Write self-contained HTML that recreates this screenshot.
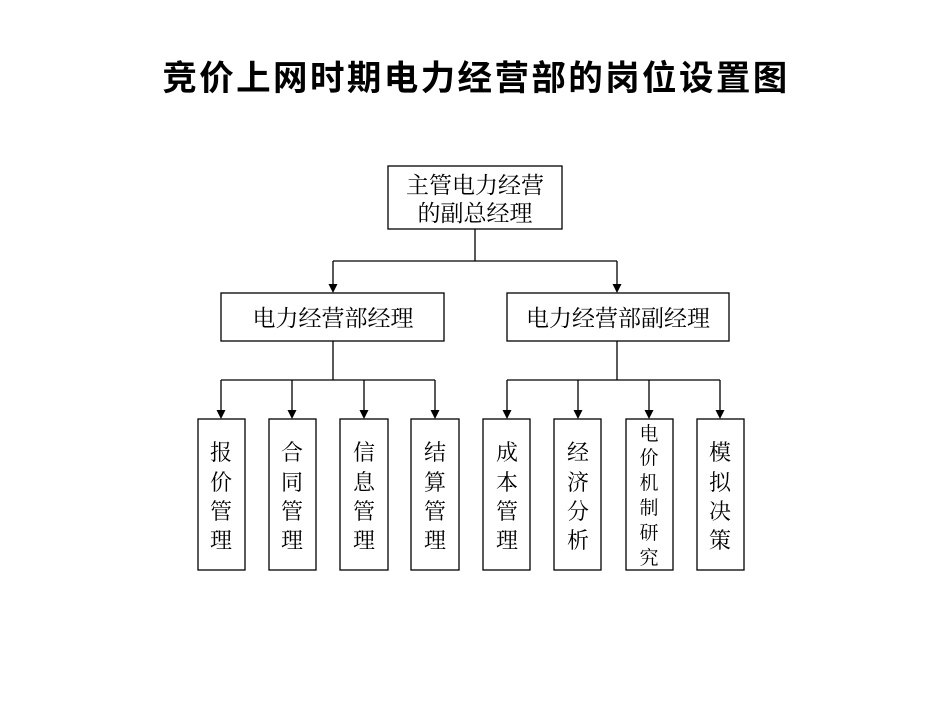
<!DOCTYPE html>
<html><head><meta charset="utf-8"><style>
html,body{margin:0;padding:0;background:#fff;}
svg{display:block;}
text{font-family:"Liberation Serif","Noto Serif CJK SC",serif;fill:#000;}
.t{font-family:"Liberation Sans","Noto Sans CJK SC","WenQuanYi Zen Hei",sans-serif;}
</style></head><body>
<svg width="950" height="713" viewBox="0 0 950 713" xmlns="http://www.w3.org/2000/svg">
<text class="t" x="476" y="90" font-size="34.5" font-weight="bold" text-anchor="middle" letter-spacing="2.4">竞价上网时期电力经营部的岗位设置图</text>
<g fill="none" stroke="#000" stroke-width="1.3">
<rect x="388" y="166" width="174" height="63"/>
<rect x="221" y="293" width="223" height="48"/>
<rect x="507" y="293" width="222" height="48"/>
<rect x="198" y="419" width="47" height="151"/>
<rect x="269" y="419" width="47" height="151"/>
<rect x="340" y="419" width="48" height="151"/>
<rect x="411" y="419" width="48" height="151"/>
<rect x="483" y="419" width="47" height="151"/>
<rect x="554" y="419" width="47" height="151"/>
<rect x="626" y="419" width="47" height="151"/>
<rect x="697" y="419" width="47" height="151"/>
<path d="M475,229 V261 M333,261 H617 M333,341 V380 M221,380 H435 M617,341 V380 M507,380 H720"/>
<path d="M333,261 V285 M617,261 V285 M221,380 V411 M292,380 V411 M364,380 V411 M435,380 V411 M507,380 V411 M578,380 V411 M649,380 V411 M720,380 V411"/>
</g>
<g fill="#000">
<path d="M328.5,284 h9 l-4.5,9 z"/><path d="M612.5,284 h9 l-4.5,9 z"/>
<path d="M216.5,410 h9 l-4.5,9 z"/><path d="M287.5,410 h9 l-4.5,9 z"/>
<path d="M359.5,410 h9 l-4.5,9 z"/><path d="M430.5,410 h9 l-4.5,9 z"/>
<path d="M502.5,410 h9 l-4.5,9 z"/><path d="M573.5,410 h9 l-4.5,9 z"/>
<path d="M644.5,410 h9 l-4.5,9 z"/><path d="M715.5,410 h9 l-4.5,9 z"/>
</g>
<g font-size="23" text-anchor="middle">
<text x="475" y="193">主管电力经营</text>
<text x="475" y="221">的副总经理</text>
<text x="333" y="326">电力经营部经理</text>
<text x="618" y="326">电力经营部副经理</text>
</g>
<g font-size="22" text-anchor="middle">
<text x="221" y="460">报</text><text x="221" y="490">价</text><text x="221" y="519">管</text><text x="221" y="548">理</text>
<text x="292" y="460">合</text><text x="292" y="490">同</text><text x="292" y="519">管</text><text x="292" y="548">理</text>
<text x="364" y="460">信</text><text x="364" y="490">息</text><text x="364" y="519">管</text><text x="364" y="548">理</text>
<text x="435" y="460">结</text><text x="435" y="490">算</text><text x="435" y="519">管</text><text x="435" y="548">理</text>
<text x="507" y="460">成</text><text x="507" y="490">本</text><text x="507" y="519">管</text><text x="507" y="548">理</text>
<text x="578" y="460">经</text><text x="578" y="490">济</text><text x="578" y="519">分</text><text x="578" y="548">析</text>
<text x="720" y="460">模</text><text x="720" y="490">拟</text><text x="720" y="519">决</text><text x="720" y="548">策</text>
</g>
<g font-size="19" text-anchor="middle">
<text x="649" y="440">电</text><text x="649" y="464">价</text><text x="649" y="489">机</text><text x="649" y="514">制</text><text x="649" y="539">研</text><text x="649" y="564">究</text>
</g>
</svg>
</body></html>
